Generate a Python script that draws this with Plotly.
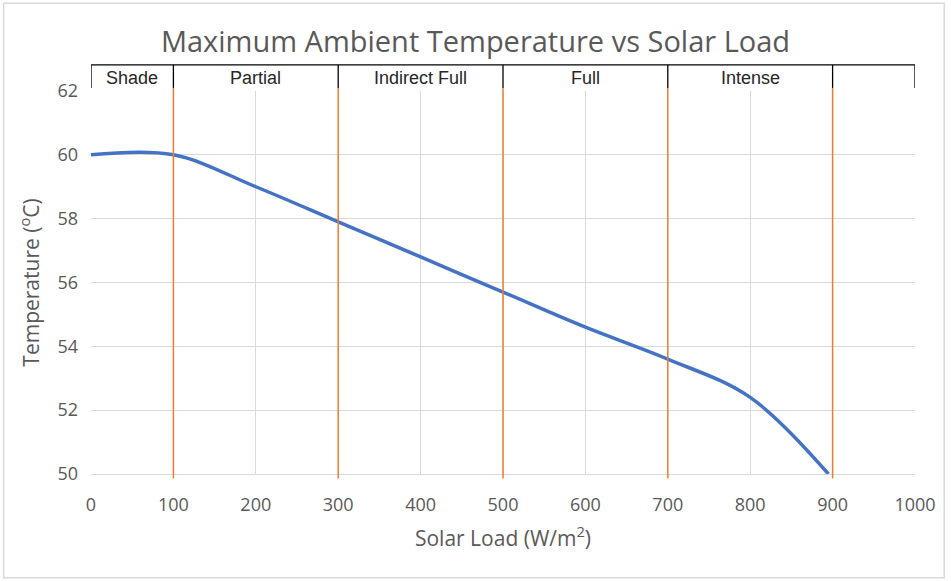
import plotly.graph_objects as go

# Data
solar_load = [0, 100, 200, 300, 400, 500, 600, 700, 800, 895]
max_temp = [60.0, 60.0, 59.0, 57.9, 56.8, 55.7, 54.6, 53.6, 52.4, 50.0]

band_edges = [0, 100, 300, 500, 700, 900, 1000]
band_labels = ["Shade", "Partial", "Indirect Full", "Full", "Intense", ""]
divider_x = [100, 300, 500, 700, 900]

x_ticks = [0, 100, 200, 300, 400, 500, 600, 700, 800, 900, 1000]
y_ticks = [50, 52, 54, 56, 58, 60, 62]

GRAY_TXT = "#595959"
GRID = "#d9d9d9"

fig = go.Figure()

fig.add_trace(go.Scatter(
    x=solar_load, y=max_temp, mode="lines",
    line=dict(color="#4472C4", width=3.5, shape="spline", smoothing=1.0),
    showlegend=False, hoverinfo="x+y",
))

shapes = []
band_top = 1.068
shapes.append(dict(type="line", xref="x", yref="paper", x0=band_edges[0], x1=band_edges[-1],
                   y0=band_top, y1=band_top, line=dict(color="#000000", width=1.3)))
for e in band_edges:
    shapes.append(dict(type="line", xref="x", yref="paper", x0=e, x1=e,
                       y0=1.008, y1=band_top, line=dict(color="#000000", width=1.3)))
for d in divider_x:
    shapes.append(dict(type="line", xref="x", yref="paper", x0=d, x1=d,
                       y0=-0.012, y1=1.008, line=dict(color="#ED7D31", width=1.5), layer="above"))
shapes.append(dict(type="rect", xref="paper", yref="paper",
                   x0=-0.106, x1=1.0355, y0=-0.271, y1=1.229,
                   line=dict(color="#d9d9d9", width=1.5)))

annotations = []
for i, lab in enumerate(band_labels):
    if lab:
        annotations.append(dict(
            x=(band_edges[i] + band_edges[i + 1]) / 2, y=1.034, xref="x", yref="paper",
            text=lab, showarrow=False, yanchor="middle",
            font=dict(family="Liberation Sans, Arial", size=18, color="#262626")))

fig.update_layout(
    width=951, height=581,
    margin=dict(l=91, r=36, t=91, b=107),
    paper_bgcolor="white", plot_bgcolor="white",
    title=dict(text="Maximum Ambient Temperature vs Solar Load", x=0.5, xanchor="center",
               y=0.928, yanchor="middle",
               font=dict(family="Open Sans", size=29, color=GRAY_TXT)),
    xaxis=dict(range=[0, 1000], tickvals=x_ticks, showgrid=True, gridcolor=GRID, gridwidth=1.3,
               zeroline=False, showline=True, linecolor=GRID, linewidth=1.3,
               ticks="", ticklabelstandoff=14,
               tickfont=dict(family="Open Sans", size=18, color=GRAY_TXT),
               title=dict(text="Solar Load (W/m<sup>2</sup>)", standoff=16,
                          font=dict(family="Open Sans", size=21, color=GRAY_TXT))),
    yaxis=dict(range=[50, 62], tickvals=y_ticks, showgrid=True, gridcolor=GRID, gridwidth=1.3,
               zeroline=False, showline=False, ticks="", ticklabelstandoff=12,
               tickfont=dict(family="Open Sans", size=18, color=GRAY_TXT),
               title=dict(text="Temperature (<sup>o</sup>C)", standoff=12,
                          font=dict(family="Open Sans", size=21, color=GRAY_TXT))),
    shapes=shapes, annotations=annotations,
)

fig.write_html("out.html", config={"displayModeBar": False},
               post_script="document.body.style.margin='0';")
